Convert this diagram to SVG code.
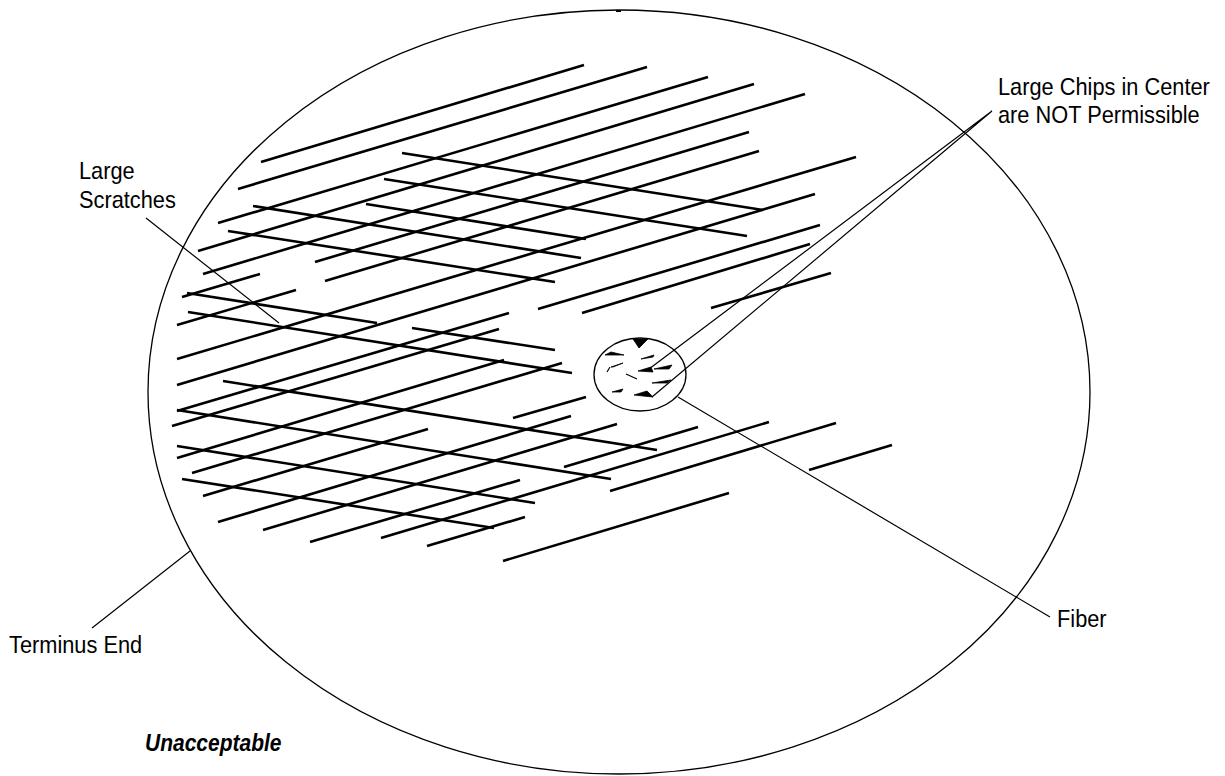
<svg xmlns="http://www.w3.org/2000/svg" width="1225" height="776" viewBox="0 0 1225 776">
<style>
.o{fill:none;stroke:#000;stroke-width:1.3}
.l{fill:none;stroke:#000;stroke-width:1.2}
.s{fill:none;stroke:#000;stroke-width:2.6}
.c{fill:#000;stroke:#000;stroke-width:.8;stroke-linejoin:round}
text{font-family:"Liberation Sans",Arial,sans-serif;font-size:21.8px;fill:#000}
.b{font-weight:bold;font-style:italic;font-size:21px}
</style>
<rect width="1225" height="776" fill="#fff"/>
<g id="terminus-end">
<ellipse class="o" cx="619" cy="392" rx="471" ry="382"/>
<rect x="616" y="10" width="5" height="2"/>
</g>
<g id="fiber">
<ellipse class="o" cx="640" cy="374.5" rx="46" ry="36.5"/>
<g id="chips">
<polygon class="c" points="633,339 648,339 639,348"/>
<polygon class="c" points="605,355 611,352 624,355"/>
<polygon class="c" points="641,359 654,355 653,357"/>
<polygon class="c" points="611,367 623,363 613,367"/>
<path class="l" d="M607,372L610,367"/>
<polygon class="c" points="638,371 651,367 653,372"/>
<polygon class="c" points="654,369 672,365 669,369"/>
<path class="l" d="M626,374L637,379"/>
<polygon class="c" points="652,383 671,380 667,383"/>
<polygon class="c" points="612,392 623,389 621,392"/>
<polygon class="c" points="634,395 647,391 653,397 643,396"/>
</g>
</g>
<g id="scratches">
<path class="s" d="M261,162L584,65M238,189L647,67M218,223L708,77M198,251L754,84M203,274L805,94M315,262L749,132M325,281L759,151M177,359L856,157M177,385L815,194M538,309L820,225M582,313L810,244M711,308L831,273M182,297L260,274M177,325L296,290M177,411L509,313M172,426L499,329M177,458L504,360M192,473L562,363M203,496L428,429M218,522L571,416M263,530L617,424M310,542L520,480M381,538L769,422M427,546L525,517M503,561L729,493M513,418L586,397M564,467L698,427M610,491L836,423M809,470L892,445"/>
<path class="s" d="M402,153L763,210M384,179L747,236M366,204L586,239M253,206L581,258M228,231L555,282M187,293L377,323M188,312L572,373M412,328L555,350M223,381L657,450M177,410L611,479M177,446L535,503M182,479L494,528"/>
</g>
<g id="connectors">
<path class="l" d="M146,218L279,323M992,111L649,369M992,111L652,397M678,397L1050,617M190,551L92,628"/>
</g>
<g id="labels">
<text transform="translate(998,95) scale(1,1.12)">Large Chips in Center</text>
<text transform="translate(998,123) scale(1,1.12)">are NOT Permissible</text>
<text transform="translate(79,179) scale(1,1.12)">Large</text>
<text transform="translate(79,208) scale(1,1.12)">Scratches</text>
<text transform="translate(9,653) scale(1,1.12)">Terminus End</text>
<text transform="translate(1057,627) scale(1,1.12)">Fiber</text>
<text class="b" transform="translate(145,751) scale(1,1.12)">Unacceptable</text>
</g>
</svg>
